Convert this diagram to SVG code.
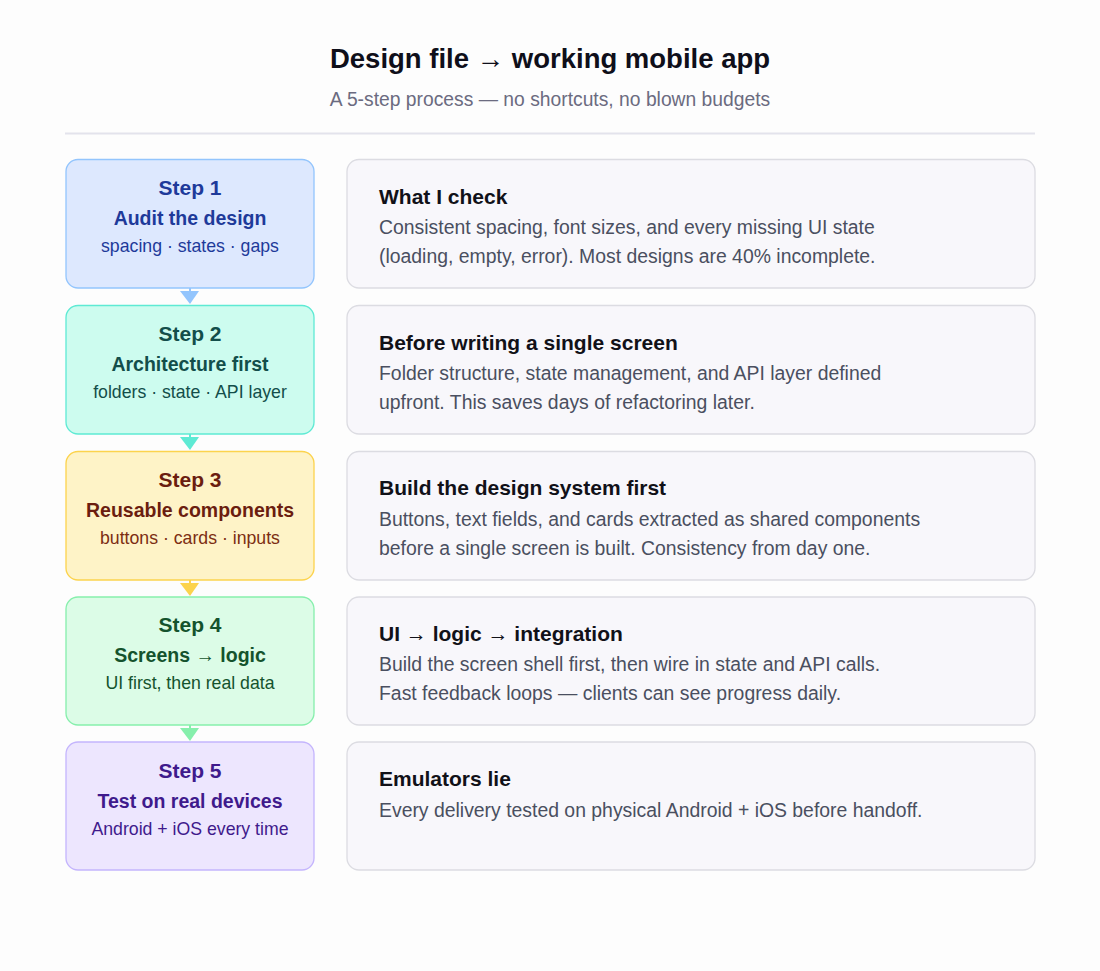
<svg xmlns="http://www.w3.org/2000/svg" width="1100" height="971" viewBox="0 0 1100 971">
<style>
text{font-family:"Liberation Sans",Arial,sans-serif}
.t{font-size:27.5px;font-weight:bold;fill:#0f0f1a;text-anchor:middle}
.sub{font-size:19.3px;fill:#6b6b80;text-anchor:middle}
.sn{font-size:21px;font-weight:bold;text-anchor:middle}
.sh{font-size:19.5px;font-weight:bold;text-anchor:middle}
.ss{font-size:17.7px;text-anchor:middle}
.db{fill:#f8f7fb;stroke:#dcdce2;stroke-width:1.3}
.dh{font-size:21px;font-weight:bold;fill:#111118}
.dt{font-size:19.4px;fill:#4a4f60}
</style>
<rect width="1100" height="971" fill="#fdfdfd"/>
<text class="t" x="550" y="68">Design file → working mobile app</text>
<text class="sub" x="550" y="106">A 5-step process — no shortcuts, no blown budgets</text>
<line x1="65" y1="133.5" x2="1035" y2="133.5" stroke="#e3e3ec" stroke-width="2"/>
<g id="connectors">
<line x1="190" y1="288" x2="190" y2="292" stroke="#93c5fd" stroke-width="2"/><path d="M180 291L199 291L190 304Z" fill="#93c5fd"/>
<line x1="190" y1="434" x2="190" y2="438" stroke="#5eead4" stroke-width="2"/><path d="M180 437L199 437L190 450Z" fill="#5eead4"/>
<line x1="190" y1="580" x2="190" y2="584" stroke="#fcd34d" stroke-width="2"/><path d="M180 583L199 583L190 596Z" fill="#fcd34d"/>
<line x1="190" y1="725" x2="190" y2="729" stroke="#86efac" stroke-width="2"/><path d="M180 728L199 728L190 741Z" fill="#86efac"/>
</g>
<g id="step1">
<rect x="66" y="159.5" width="248" height="128.5" rx="12" fill="#dde8fe" stroke="#93c5fd" stroke-width="1.3"/>
<text class="sn" x="190" y="195" fill="#1e3a9a">Step 1</text>
<text class="sh" x="190" y="225" fill="#1e3a9a">Audit the design</text>
<text class="ss" x="190" y="252" fill="#1e3a9a">spacing · states · gaps</text>
</g>
<g id="detail1">
<rect class="db" x="347" y="159.5" width="688" height="128.5" rx="12"/>
<text class="dh" x="379" y="204">What I check</text>
<text class="dt" x="379" y="234">Consistent spacing, font sizes, and every missing UI state</text>
<text class="dt" x="379" y="263">(loading, empty, error). Most designs are 40% incomplete.</text>
</g>
<g id="step2">
<rect x="66" y="305.5" width="248" height="128.5" rx="12" fill="#cdfcef" stroke="#5eead4" stroke-width="1.3"/>
<text class="sn" x="190" y="341" fill="#134e4a">Step 2</text>
<text class="sh" x="190" y="371" fill="#134e4a">Architecture first</text>
<text class="ss" x="190" y="398" fill="#134e4a">folders · state · API layer</text>
</g>
<g id="detail2">
<rect class="db" x="347" y="305.5" width="688" height="128.5" rx="12"/>
<text class="dh" x="379" y="350">Before writing a single screen</text>
<text class="dt" x="379" y="380">Folder structure, state management, and API layer defined</text>
<text class="dt" x="379" y="409">upfront. This saves days of refactoring later.</text>
</g>
<g id="step3">
<rect x="66" y="451.5" width="248" height="128.5" rx="12" fill="#fef3c7" stroke="#fcd34d" stroke-width="1.3"/>
<text class="sn" x="190" y="487" fill="#6b1d0f">Step 3</text>
<text class="sh" x="190" y="517" fill="#6b1d0f">Reusable components</text>
<text class="ss" x="190" y="544" fill="#7c2d12">buttons · cards · inputs</text>
</g>
<g id="detail3">
<rect class="db" x="347" y="451.5" width="688" height="128.5" rx="12"/>
<text class="dh" x="379" y="495">Build the design system first</text>
<text class="dt" x="379" y="526">Buttons, text fields, and cards extracted as shared components</text>
<text class="dt" x="379" y="555">before a single screen is built. Consistency from day one.</text>
</g>
<g id="step4">
<rect x="66" y="597" width="248" height="128" rx="12" fill="#dcfce7" stroke="#86efac" stroke-width="1.3"/>
<text class="sn" x="190" y="632" fill="#14532d">Step 4</text>
<text class="sh" x="190" y="662" fill="#14532d">Screens → logic</text>
<text class="ss" x="190" y="689" fill="#14532d">UI first, then real data</text>
</g>
<g id="detail4">
<rect class="db" x="347" y="597" width="688" height="128" rx="12"/>
<text class="dh" x="379" y="641">UI → logic → integration</text>
<text class="dt" x="379" y="671">Build the screen shell first, then wire in state and API calls.</text>
<text class="dt" x="379" y="700">Fast feedback loops — clients can see progress daily.</text>
</g>
<g id="step5">
<rect x="66" y="742" width="248" height="128" rx="12" fill="#ede6fe" stroke="#c4b5fd" stroke-width="1.3"/>
<text class="sn" x="190" y="778" fill="#3f1a8c">Step 5</text>
<text class="sh" x="190" y="808" fill="#3f1a8c">Test on real devices</text>
<text class="ss" x="190" y="835" fill="#3f1a8c">Android + iOS every time</text>
</g>
<g id="detail5">
<rect class="db" x="347" y="742" width="688" height="128" rx="12"/>
<text class="dh" x="379" y="786">Emulators lie</text>
<text class="dt" x="379" y="817">Every delivery tested on physical Android + iOS before handoff.</text>
</g>
</svg>
